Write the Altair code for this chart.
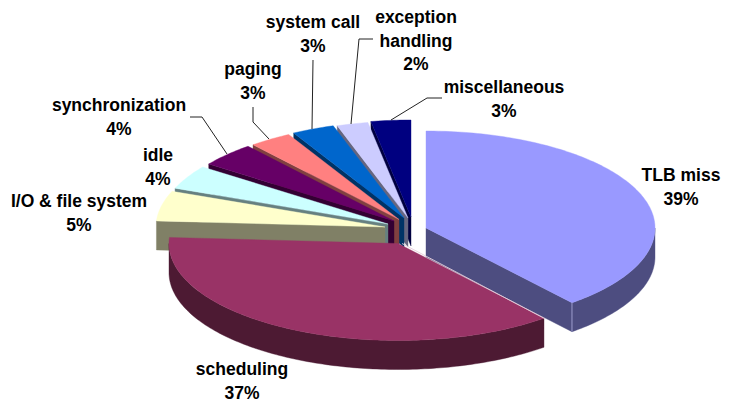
import math
import altair as alt
import pandas as pd

# --- chart values ---
categories = ["TLB miss", "scheduling", "I/O & file system", "idle", "synchronization",
              "paging", "system call", "exception handling", "miscellaneous"]
shares = [39.0, 37.0, 5.0, 4.0, 4.0, 3.0, 3.0, 2.2, 2.8]

# --- styles ---
top_colors = ["#9999FF", "#993366", "#FFFFCC", "#CCFFFF", "#660066",
              "#FF8080", "#0066CC", "#CCCCFF", "#000080"]
side_colors = ["#4D4D80", "#4D1A33", "#808066", "#668080", "#330033",
               "#804040", "#003366", "#666680", "#000040"]

# --- 3-D pie layout (page pixels) ---
RX, RY, DEPTH = 229, 97, 29
apex_x = [426, 398, 385, 388, 394, 399, 404, 408, 411]
apex_y = [228, 243.5, 227, 224, 221, 219.5, 218, 218, 217]
paint_order = [8, 7, 6, 5, 4, 3, 2, 0, 1]

label_x = [681, 242, 79, 158, 119, 253, 313, 416, 504]
label_y = [176, 370, 202, 156, 106, 70, 23, 18, 88]
label_lines = [["TLB miss"], ["scheduling"], ["I/O & file system"], ["idle"], ["synchronization"],
               ["paging"], ["system call"], ["exception", "handling"], ["miscellaneous"]]

leader_names = ["synchronization"] * 3 + ["paging"] * 3 + ["system call"] * 2 + \
               ["exception handling"] * 3 + ["miscellaneous"] * 3
leader_x = [190, 202, 227, 253, 253, 269, 313, 312, 373, 359, 351, 442, 427, 391]
leader_y = [117, 117, 154, 107, 122, 139, 60, 129, 39, 39, 124, 98, 98, 120]


def rim(i, deg):
    t = math.radians(deg)
    return [apex_x[i] + RX * math.sin(t), apex_y[i] - RY * math.cos(t)]


def feature(points, fill):
    ring = [[round(p[0], 2), round(p[1], 2)] for p in points]
    ring.append(ring[0])
    return {"type": "Feature", "properties": {"fill": fill},
            "geometry": {"type": "Polygon", "coordinates": [ring]}}


def edge(points, color):
    return {"type": "Feature", "properties": {"edge": color},
            "geometry": {"type": "LineString",
                         "coordinates": [[round(p[0], 2), round(p[1], 2)] for p in points]}}


def arc_points(i, a, b):
    n = max(2, int(abs(b - a)) + 1)
    return [rim(i, a + (b - a) * k / n) for k in range(n + 1)]


bounds = []
acc = 0.0
for s in shares:
    bounds.append((acc * 3.6, (acc + s) * 3.6))
    acc += s

down = lambda p: [p[0], p[1] + DEPTH]

features = []
for i in paint_order:
    a, b = bounds[i]
    c = [apex_x[i], apex_y[i]]
    # radial cut faces that look towards the viewer
    if math.sin(math.radians(a)) < -1e-6:
        p = rim(i, a)
        features.append(feature([c, p, down(p), down(c)], side_colors[i]))
    if math.sin(math.radians(b)) > 1e-6:
        p = rim(i, b)
        features.append(feature([c, p, down(p), down(c)], side_colors[i]))
    # outer rim, front half only
    lo, hi = max(a, 90), min(b, 270)
    if lo < hi:
        arc = arc_points(i, lo, hi)
        features.append(feature(arc + [down(p) for p in reversed(arc)], side_colors[i]))
    # top face
    features.append(feature([c] + arc_points(i, a, b), top_colors[i]))

# thin light highlights along the two big slices' front edges
tlb_corner = rim(0, bounds[0][1])
sched_corner = rim(1, bounds[1][0])
highlights = [
    edge([tlb_corner, down(tlb_corner)], "#A9A9D6"),
    edge([[apex_x[1] + 4, apex_y[1]], sched_corner], "#E6CFDB"),
]

W, H = 714, 395
x_scale = alt.Scale(domain=[8, 8 + W], range=[0, W])
y_scale = alt.Scale(domain=[8, 8 + H], range=[0, H])

pie = alt.Chart(alt.Data(values=features)).mark_geoshape(strokeWidth=0.4).encode(
    fill=alt.Fill("properties.fill:N", scale=None, legend=None),
    stroke=alt.Stroke("properties.fill:N", scale=None, legend=None),
).project(type="identity", scale=1, translate=[-8, -8])

edges = alt.Chart(alt.Data(values=highlights)).mark_geoshape(filled=False, strokeWidth=0.9).encode(
    stroke=alt.Stroke("properties.edge:N", scale=None, legend=None),
).project(type="identity", scale=1, translate=[-8, -8])

leaders = alt.Chart(pd.DataFrame({"name": leader_names, "x": leader_x, "y": leader_y,
                                  "o": range(len(leader_x))})).mark_line(
    color="#222222", strokeWidth=1).encode(
    x=alt.X("x:Q", scale=x_scale, axis=None),
    y=alt.Y("y:Q", scale=y_scale, axis=None),
    detail="name:N", order="o:Q")

rows = []
for i, name in enumerate(categories):
    lines = label_lines[i] + [f"{round(shares[i])}%"]
    rows.append({"name": name, "text": "\n".join(lines), "x": label_x[i], "y": label_y[i]})

labels = alt.Chart(pd.DataFrame(rows)).mark_text(
    font="Liberation Sans", fontWeight="bold", fontSize=17.5, color="#000000",
    align="center", baseline="middle", lineBreak="\n", lineHeight=23.5).encode(
    x=alt.X("x:Q", scale=x_scale, axis=None),
    y=alt.Y("y:Q", scale=y_scale, axis=None),
    text="text:N")

chart = alt.layer(pie, edges, leaders, labels).resolve_scale(stroke="independent").properties(
    width=W, height=H, padding=0, autosize=alt.AutoSizeParams(type="none"),
    background="#FFFFFF",
).configure_view(stroke=None)

chart.save("out.html", embed_options={"renderer": "svg", "actions": False})
